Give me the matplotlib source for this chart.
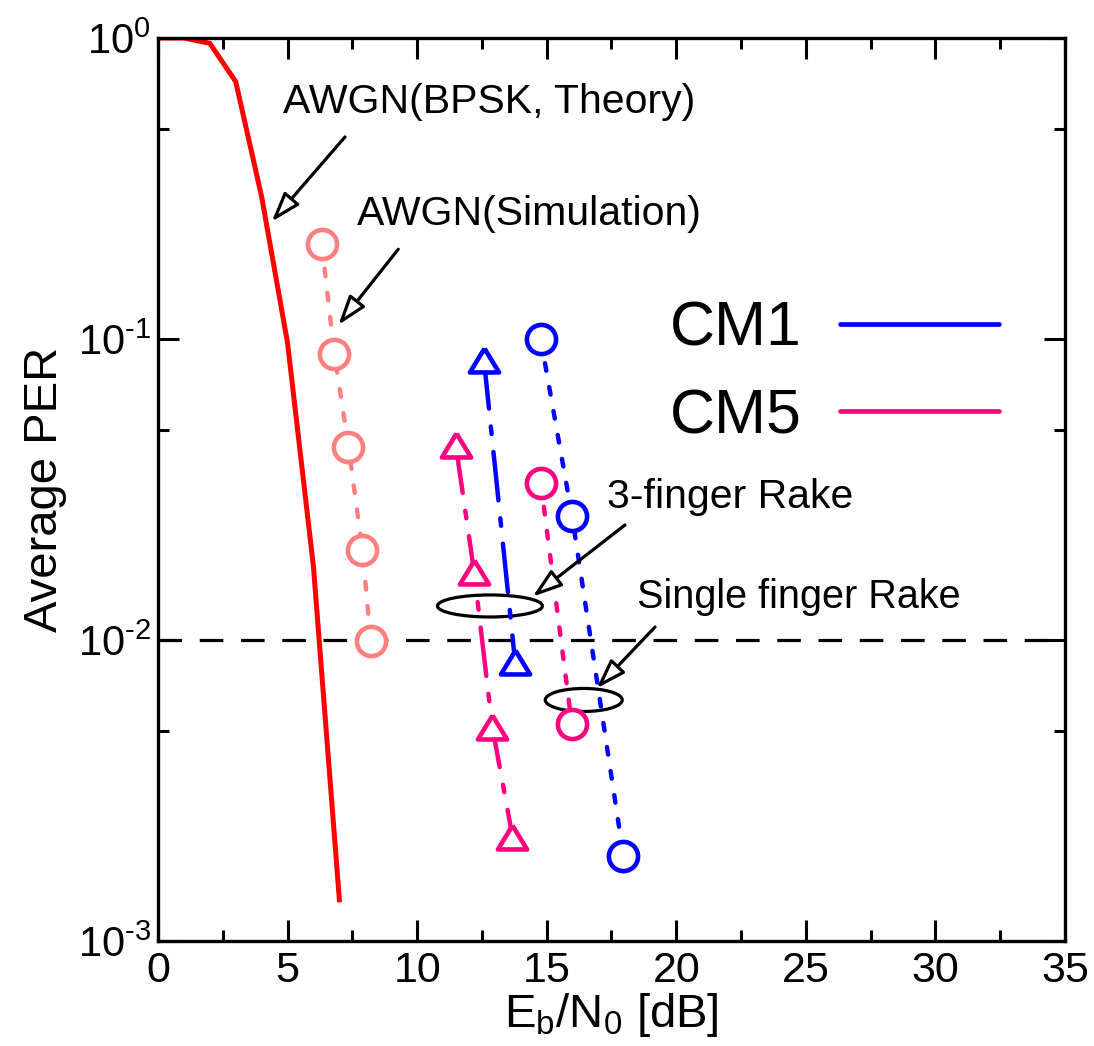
import numpy as np
import matplotlib
matplotlib.use('Agg')
import matplotlib.pyplot as plt
import matplotlib.ticker as mticker
from matplotlib.patches import Ellipse
from matplotlib.lines import Line2D

plt.rcParams['font.family'] = ['Liberation Sans', 'DejaVu Sans']
plt.rcParams['mathtext.fontset'] = 'custom'
plt.rcParams['mathtext.rm'] = 'Liberation Sans'
plt.rcParams['mathtext.it'] = 'Liberation Sans:italic'
plt.rcParams['axes.unicode_minus'] = False
plt.rcParams['lines.scale_dashes'] = False

# AWGN BPSK theory
x_theory = [0, 1, 2, 3, 4, 5, 6, 7]
per_theory = [1.0, 1.0, 0.96, 0.716, 0.297, 0.097, 0.0175, 0.00137]

# AWGN simulation
x_sim = [6.32, 6.81, 7.35, 7.89, 8.21]
per_sim = [0.206, 0.0892, 0.0439, 0.0199, 0.00995]

# single finger rake
x_cm1_single = [14.77, 15.98, 17.96]
per_cm1_single = [0.0998, 0.0258, 0.00192]
x_cm5_single = [14.77, 15.97]
per_cm5_single = [0.0333, 0.00525]

# 3-finger rake
x_cm1_rake3 = [12.58, 13.78]
per_cm1_rake3 = [0.085, 0.00848]
x_cm5_rake3 = [11.49, 12.2, 12.9, 13.68]
per_cm5_rake3 = [0.0445, 0.0168, 0.00515, 0.00222]

target_per = 1e-2

blue = '#0000FF'
pink = '#FF0080'
salmon = '#FF8080'

dotted = (0, (5.5, 12))
dashdot = (0, (35, 13, 5.4, 13))
tri = [(0, 0.82), (-1, -0.82), (1, -0.82), (0, 0.82)]


def pow10_label(v, pos):
    e = int(round(np.log10(v)))
    return r'10$^{\text{%d}}$' % e


fig = plt.figure(figsize=(10.94, 10.46), dpi=100)
ax = fig.add_axes([0.1444, 0.1004, 0.8291, 0.8633])

ax.axhline(target_per, color='black', lw=2.3, dashes=(17, 12.7))
ax.plot(x_theory, per_theory, color='red', lw=3.6, solid_joinstyle='miter')
ax.plot(x_sim, per_sim, color=salmon, lw=3.2, linestyle=dotted, dash_capstyle='round',
        marker='o', ms=21, mew=3.3, mfc='white', mec=salmon)
ax.plot(x_cm1_single, per_cm1_single, color=blue, lw=3.2, linestyle=dotted, dash_capstyle='round',
        marker='o', ms=21, mew=3.3, mfc='white', mec=blue)
ax.plot(x_cm5_single, per_cm5_single, color=pink, lw=3.2, linestyle=dotted, dash_capstyle='round',
        marker='o', ms=21, mew=3.3, mfc='white', mec=pink)
ax.plot(x_cm1_rake3, per_cm1_rake3, color=blue, lw=3.2, linestyle=dashdot, dash_capstyle='round',
        marker=tri, ms=21, mew=3.3, mfc='white', mec=blue)
ax.plot(x_cm5_rake3, per_cm5_rake3, color=pink, lw=3.2, linestyle=dashdot, dash_capstyle='round',
        marker=tri, ms=21, mew=3.3, mfc='white', mec=pink)

ax.set_yscale('log')
ax.set_xlim(0, 35)
ax.set_ylim(1e-3, 1)
ax.xaxis.set_major_locator(mticker.MultipleLocator(5))
ax.xaxis.set_minor_locator(mticker.MultipleLocator(2.5))
ax.yaxis.set_major_locator(mticker.LogLocator(base=10, numticks=10))
ax.yaxis.set_major_formatter(mticker.FuncFormatter(pow10_label))
ax.yaxis.set_minor_locator(mticker.LogLocator(base=10, subs=[5], numticks=10))
ax.yaxis.set_minor_formatter(mticker.NullFormatter())
ax.tick_params(which='both', direction='in', top=True, right=True, width=2.2)
ax.tick_params(which='major', length=15, pad=7)
ax.tick_params(which='minor', length=8)
ax.tick_params(axis='x', labelsize=31)
ax.tick_params(axis='y', labelsize=30, pad=5)
for s in ax.spines.values():
    s.set_linewidth(2.4)

ax.set_xlabel(r'E$_{\mathrm{b}}$/N$_{0}$ [dB]', fontsize=34, labelpad=0)
ax.set_ylabel('Average PER', fontsize=34, labelpad=8)

# annotations
fs = 29.5
ax.text(0.1378, 0.9291, 'AWGN(BPSK, Theory)', transform=ax.transAxes, fontsize=fs, va='center')
ax.text(0.2194, 0.8051, 'AWGN(Simulation)', transform=ax.transAxes, fontsize=fs, va='center')
ax.text(0.4950, 0.4917, '3-finger Rake', transform=ax.transAxes, fontsize=fs, va='center')
ax.text(0.5281, 0.3810, 'Single finger Rake', transform=ax.transAxes, fontsize=28.5, va='center')

arrows = [((0.2062, 0.8904), (0.1254, 0.7966)),
          ((0.2649, 0.7660), (0.1988, 0.6822)),
          ((0.5149, 0.4607), (0.4131, 0.3813)),
          ((0.5480, 0.3477), (0.4837, 0.2798))]
for start, tip in arrows:
    ax.annotate('', xy=tip, xytext=start, xycoords='axes fraction', textcoords='axes fraction',
                arrowprops=dict(arrowstyle='-|>,head_length=1.8,head_width=0.6', lw=2.3,
                                fc='white', ec='black', shrinkA=0, shrinkB=0, mutation_scale=10))

ax.add_patch(Ellipse((0.366, 0.371), 0.1158, 0.0244, transform=ax.transAxes,
                     fill=False, ec='black', lw=2.3))
ax.add_patch(Ellipse((0.4694, 0.2669), 0.0849, 0.0255, transform=ax.transAxes,
                     fill=False, ec='black', lw=2.3))

handles = [Line2D([], [], color=blue, lw=3.4, solid_capstyle='round'),
           Line2D([], [], color=pink, lw=3.4, solid_capstyle='round')]
ax.legend(handles, ['CM1', 'CM5'], loc='center', bbox_to_anchor=(0.746, 0.629),
          frameon=False, fontsize=45, markerfirst=False, handlelength=2.55,
          handletextpad=0.6, labelspacing=0.45, borderpad=0)

fig.savefig('out.png', dpi=100)
